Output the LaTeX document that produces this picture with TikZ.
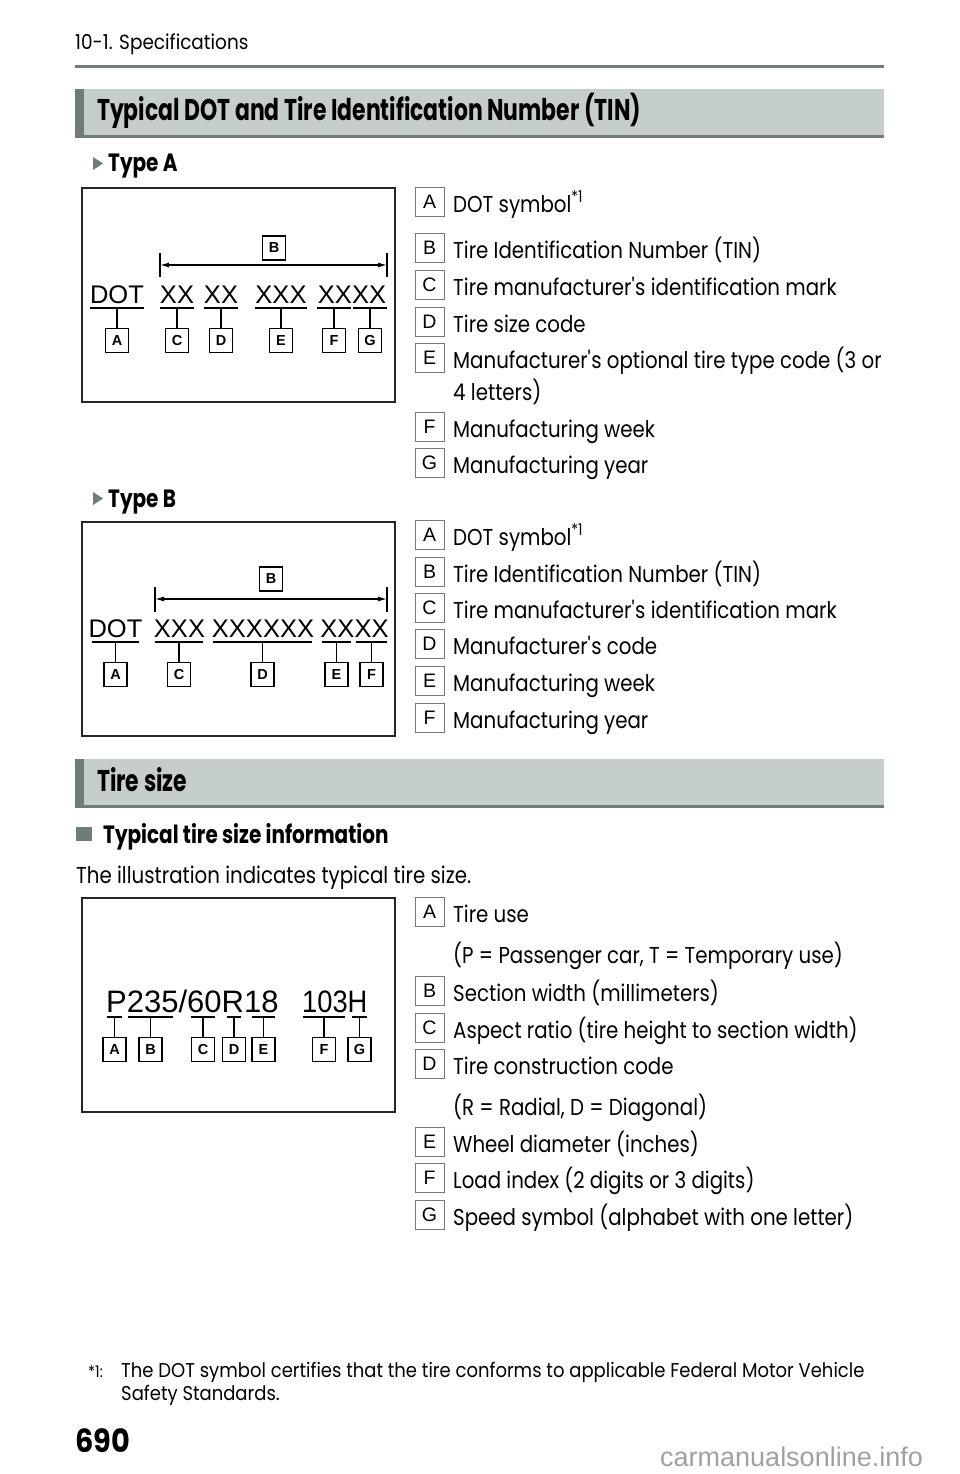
\documentclass[tikz,border=0pt]{standalone}
\usepackage{fontspec}
\usepackage{graphicx}
\setmainfont{Poppins}[FakeStretch=0.86]
\newfontfamily\headfont{Poppins}[FakeStretch=0.73]
\newfontfamily\subfont{Poppins}[FakeStretch=0.8]
\newfontfamily\notefont{Poppins}[FakeStretch=0.9]
\newfontfamily\figfont{Liberation Sans}
\usetikzlibrary{arrows.meta}
\definecolor{BarClr}{RGB}{197,206,204}
\definecolor{RuleClr}{RGB}{111,124,122}
\definecolor{KeyClr}{RGB}{120,120,120}
\definecolor{WaterClr}{RGB}{160,160,160}

\tikzset{
  keybox/.style={draw=KeyClr,line width=0.8pt,minimum width=29pt,minimum height=29pt,
    inner sep=0pt,font=\figfont\fontsize{19.5}{22}\selectfont},
  keytext/.style={anchor=base west,inner sep=0pt,font=\fontsize{23}{27}\selectfont},
  figframe/.style={draw=black!85,line width=1.5pt},
  figtext/.style={anchor=base,inner sep=0pt,font=\figfont\fontsize{25.5}{28}\selectfont},
  markline/.style={line width=1.2pt},
  markbox/.style={draw,line width=1.2pt,anchor=north,minimum width=23pt,minimum height=24pt,
    inner sep=0pt,font=\figfont\bfseries\fontsize{14.5}{16}\selectfont},
  dimarrow/.style={line width=1.2pt,{Latex[length=9pt,width=5pt]}-{Latex[length=9pt,width=5pt]}},
  headtext/.style={anchor=base west,inner sep=0pt,font=\headfont\bfseries\fontsize{30}{34}\selectfont},
  subtext/.style={anchor=base west,inner sep=0pt,font=\subfont\bfseries\fontsize{25}{28}\selectfont},
  notetext/.style={anchor=base west,inner sep=0pt,font=\notefont\fontsize{20}{24}\selectfont}
}
\newcommand\apos{\textquotesingle}

% one row of the key list: name, letter, baseline, text
\newcommand\keyrow[4]{%
  \node[keybox] (#1) at (429.5,#3-10.5) {#2};
  \node[keytext] (#1txt) at (453,#3) {#4};
}
% one marker under the code: name, letter, left, right, underline y
\newcommand\tinmark[5]{%
  \coordinate (#1u) at ({(#3+#4)/2},#5);
  \draw[markline] (#3,#5) -- (#4,#5);
  \node[markbox] (#1) at ({(#3+#4)/2},#5+20) {#2};
  \draw[markline] (#1u) -- (#1);
}

\begin{document}
\begin{tikzpicture}[x=1pt,y=-1pt]
\useasboundingbox (0,0) rectangle (960,1474);

% page head
\node[notetext,font=\notefont\fontsize{20.5}{24}\selectfont] (chap) at (75,50) {10-1. Specifications};
\draw[RuleClr,line width=3pt] (75,66.5) -- (884,66.5);

% section: DOT and TIN
\fill[BarClr] (75,89) rectangle (884,138);
\fill[RuleClr] (75,89) rectangle (84,138);
\fill[RuleClr] (75,135) rectangle (884,138);
\node[headtext] (dothead) at (97,121) {Typical DOT and Tire Identification Number (TIN)};

\fill[RuleClr] (93,157) -- (103,163.5) -- (93,170) -- cycle;
\node[subtext] (typeA) at (108,172) {Type A};

\draw[figframe] (82,188) rectangle (395,402);
\node[markbox,anchor=center] (tinA) at (274,248) {B};
\draw[markline] (160,253) -- (160,277);
\draw[markline] (387,253) -- (387,277);
\coordinate (dimAl) at (160,265);
\coordinate (dimAr) at (387,265);
\draw[dimarrow] (dimAl) -- (dimAr);
\node[figtext] (dotA) at (117,303) {DOT};
\node[figtext] (xxA1) at (177,303) {XX};
\node[figtext] (xxA2) at (221,303) {XX};
\node[figtext] (xxA3) at (281,303) {XXX};
\node[figtext] (xxA4) at (352,303) {XXXX};
\tinmark{mAa}{A}{90}{144}{308}
\tinmark{mAc}{C}{160}{194}{308}
\tinmark{mAd}{D}{204}{238}{308}
\tinmark{mAe}{E}{255}{307}{308}
\tinmark{mAf}{F}{317}{351}{308}
\tinmark{mAg}{G}{353}{387}{308}

\keyrow{kAa}{A}{212}{DOT symbol\textsuperscript{*1}}
\keyrow{kAb}{B}{258}{Tire Identification Number (TIN)}
\keyrow{kAc}{C}{295}{Tire manufacturer\apos s identification mark}
\keyrow{kAd}{D}{332}{Tire size code}
\keyrow{kAe}{E}{368}{Manufacturer\apos s optional tire type code (3 or}
\node[keytext] (kAe2) at (453,400) {4 letters)};
\keyrow{kAf}{F}{437}{Manufacturing week}
\keyrow{kAg}{G}{473}{Manufacturing year}

\fill[RuleClr] (93,492) -- (103,498.5) -- (93,505) -- cycle;
\node[subtext] (typeB) at (108,507) {Type B};

\draw[figframe] (82,522) rectangle (395,736);
\node[markbox,anchor=center] (tinB) at (271,579) {B};
\draw[markline] (155,587) -- (155,612);
\draw[markline] (387,587) -- (387,612);
\coordinate (dimBl) at (155,599);
\coordinate (dimBr) at (387,599);
\draw[dimarrow] (dimBl) -- (dimBr);
\node[figtext] (dotB) at (115.5,637) {DOT};
\node[figtext] (xxB1) at (179.5,637) {XXX};
\node[figtext] (xxB2) at (263,637) {XXXXXX};
\node[figtext] (xxB3) at (354.5,637) {XXXX};
\tinmark{mBa}{A}{92}{139}{642}
\tinmark{mBc}{C}{155}{203}{642}
\tinmark{mBd}{D}{213}{312}{642}
\tinmark{mBe}{E}{322}{351}{642}
\tinmark{mBf}{F}{356}{387}{642}

\keyrow{kBa}{A}{545}{DOT symbol\textsuperscript{*1}}
\keyrow{kBb}{B}{582}{Tire Identification Number (TIN)}
\keyrow{kBc}{C}{618}{Tire manufacturer\apos s identification mark}
\keyrow{kBd}{D}{654}{Manufacturer\apos s code}
\keyrow{kBe}{E}{691}{Manufacturing week}
\keyrow{kBf}{F}{728}{Manufacturing year}

% section: tire size
\fill[BarClr] (75,759) rectangle (884,808);
\fill[RuleClr] (75,759) rectangle (84,808);
\fill[RuleClr] (75,805) rectangle (884,808);
\node[headtext] (sizehead) at (97,791) {Tire size};

\fill[RuleClr] (76,827) rectangle (92,841);
\node[subtext] (sizesub) at (103,843) {Typical tire size information};
\node[keytext] (sizeintro) at (76,883) {The illustration indicates typical tire size.};

\draw[figframe] (82,898) rectangle (395,1112);
\node[figtext,anchor=base west,font=\figfont\fontsize{31}{34}\selectfont] (size1) at (106,1012) {P235/60R18};
\node[figtext,anchor=base west,font=\figfont\fontsize{31}{34}\selectfont] (size2) at (302,1012) {\scalebox{0.88}[1]{103H}};
\tinmark{mSa}{A}{107}{122}{1017}
\tinmark{mSb}{B}{128}{173}{1017}
\tinmark{mSc}{C}{191}{215}{1017}
\tinmark{mSd}{D}{227}{241}{1017}
\tinmark{mSe}{E}{252}{275}{1017}
\tinmark{mSf}{F}{303}{345}{1017}
\tinmark{mSg}{G}{352}{367}{1017}

\keyrow{kSa}{A}{922}{Tire use}
\node[keytext] (kSa2) at (453,963) {(P = Passenger car, T = Temporary use)};
\keyrow{kSb}{B}{1001}{Section width (millimeters)}
\keyrow{kSc}{C}{1038}{Aspect ratio (tire height to section width)}
\keyrow{kSd}{D}{1074}{Tire construction code}
\node[keytext] (kSd2) at (453,1115) {(R = Radial, D = Diagonal)};
\keyrow{kSe}{E}{1152}{Wheel diameter (inches)}
\keyrow{kSf}{F}{1188}{Load index (2 digits or 3 digits)}
\keyrow{kSg}{G}{1225}{Speed symbol (alphabet with one letter)}

% footnote and page number
\node[notetext,font=\notefont\fontsize{16}{18}\selectfont] (fnmark) at (88,1377) {*1:};
\node[notetext] (fn1) at (121,1377) {The DOT symbol certifies that the tire conforms to applicable Federal Motor Vehicle};
\node[notetext] (fn2) at (121,1400) {Safety Standards.};
\node[notetext,font=\notefont\bfseries\fontsize{32}{36}\selectfont] (pageno) at (75,1452) {690};
\node[anchor=base west,inner sep=0pt,text=WaterClr,font=\figfont\fontsize{27}{30}\selectfont] (water) at (660,1466) {carmanualsonline.info};

\end{tikzpicture}
\end{document}
